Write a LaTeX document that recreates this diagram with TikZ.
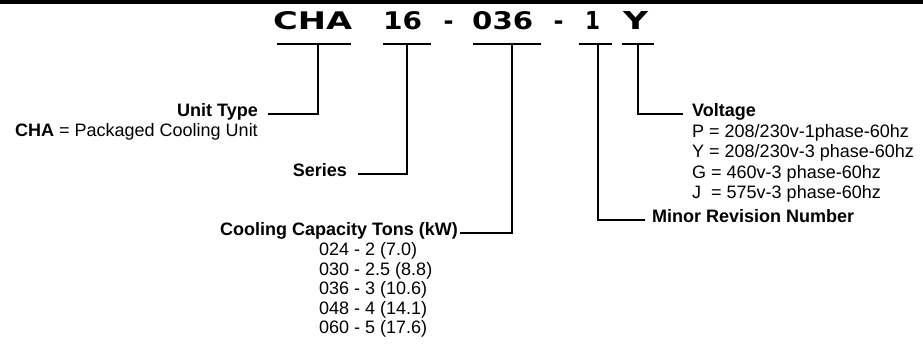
\documentclass[tikz,border=0pt]{standalone}
\usepackage{fontspec}
\setmainfont{Liberation Sans}
\newfontfamily\codefont{DejaVu Sans}
\begin{document}
\begin{tikzpicture}[x=1pt,y=-1pt,
  lbl/.style={inner sep=0pt, font=\fontsize{18}{20}\selectfont},
  code/.style={inner sep=0pt, anchor=base west},
  uline/.style={line width=2.2pt},
  conn/.style={line width=1.9pt, line join=miter},
]
\useasboundingbox (0,0) rectangle (923,343);
\fill (0,0) rectangle (923,3.5);

% model code
\node[code] (cha)  at (273,29) {\resizebox{79pt}{18pt}{\codefont\bfseries CHA}};
\node[code] (s16)  at (383,29) {\resizebox{39pt}{18pt}{\codefont\bfseries 16}};
\node[code] (c036) at (472,29) {\resizebox{61pt}{18pt}{\codefont\bfseries 036}};
\node[code] (r1)   at (585,29) {\resizebox{15pt}{18pt}{\codefont\bfseries 1}};
\node[code] (vy)   at (623,29) {\resizebox{25pt}{18pt}{\codefont\bfseries Y}};
\node[inner sep=0pt, anchor=base] (d1) at (448.5,29) {\codefont\bfseries\fontsize{24}{24}\selectfont -};
\node[inner sep=0pt, anchor=base] (d2) at (558.5,29) {\codefont\bfseries\fontsize{24}{24}\selectfont -};

% underlines
\coordinate (chaL) at (277,44);  \coordinate (chaR) at (351,44);  \coordinate (chaM) at (318,44);
\coordinate (s16L) at (383,44);  \coordinate (s16R) at (431,44);  \coordinate (s16M) at (407,44);
\coordinate (c36L) at (473,44);  \coordinate (c36R) at (541,44);  \coordinate (c36M) at (512,44);
\coordinate (r1L)  at (579,44);  \coordinate (r1R)  at (612,44);  \coordinate (r1M)  at (598,44);
\coordinate (vyL)  at (622,44);  \coordinate (vyR)  at (654,44);  \coordinate (vyM)  at (638,44);
\draw[uline] (chaL) -- (chaR);
\draw[uline] (s16L) -- (s16R);
\draw[uline] (c36L) -- (c36R);
\draw[uline] (r1L) -- (r1R);
\draw[uline] (vyL) -- (vyR);

% labels
\node[lbl, anchor=base east] (unit)   at (258,116.5) {\textbf{Unit Type}};
\node[lbl, anchor=base east] (chadef) at (258,136.5) {\textbf{CHA} = Packaged Cooling Unit};
\node[lbl, anchor=base east] (series) at (347,176.5) {\textbf{Series}};
\node[lbl, anchor=base east] (cool)   at (458,235.5) {\textbf{Cooling Capacity Tons (kW)}};
\node[lbl, anchor=base west] (cap1) at (319,255.5) {024 - 2 (7.0)};
\node[lbl, anchor=base west] (cap2) at (319,275)   {030 - 2.5 (8.8)};
\node[lbl, anchor=base west] (cap3) at (319,294.5) {036 - 3 (10.6)};
\node[lbl, anchor=base west] (cap4) at (319,314)   {048 - 4 (14.1)};
\node[lbl, anchor=base west] (cap5) at (319,333.5) {060 - 5 (17.6)};

\node[lbl, anchor=base west] (volt) at (692,116.5) {\textbf{Voltage}};
\node[lbl, anchor=base west] (vp) at (692,137)   {P = 208/230v-1phase-60hz};
\node[lbl, anchor=base west] (vyy) at (692,157.5) {Y = 208/230v-3 phase-60hz};
\node[lbl, anchor=base west] (vg) at (692,178)   {G = 460v-3 phase-60hz};
\node[lbl, anchor=base west] (vj) at (692,198.5) {J \ = 575v-3 phase-60hz};
\node[lbl, anchor=base west] (minor) at (652,222.5) {\textbf{Minor Revision Number}};

% connectors
\draw[conn] (chaM) |- ([xshift=10pt]unit.mid east);
\draw[conn] (s16M) |- ([xshift=11pt]series.mid east);
\draw[conn] (c36M) |- ([xshift=2pt]cool.mid east);
\draw[conn] (r1M) |- ([xshift=-7pt]minor.mid west);
\draw[conn] (vyM) |- ([xshift=-9pt]volt.mid west);
\end{tikzpicture}
\end{document}
